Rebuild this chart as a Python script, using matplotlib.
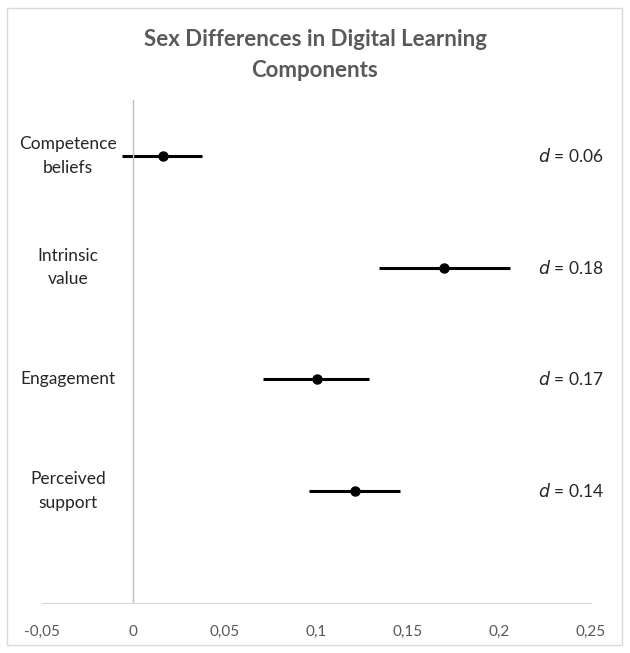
import matplotlib.pyplot as plt
from matplotlib.patches import Rectangle

plt.rcParams['font.family'] = ['Lato', 'DejaVu Sans']

# Data
categories = ['Competence\nbeliefs', 'Intrinsic\nvalue', 'Engagement', 'Perceived\nsupport']
estimates = [0.0165, 0.170, 0.1005, 0.121]
ci_low = [-0.006, 0.134, 0.071, 0.096]
ci_high = [0.0375, 0.206, 0.129, 0.146]
d_labels = ['0.06', '0.18', '0.17', '0.14']
xticks = [-0.05, 0, 0.05, 0.1, 0.15, 0.2, 0.25]
xtick_labels = ['-0,05', '0', '0,05', '0,1', '0,15', '0,2', '0,25']

fig = plt.figure(figsize=(6.3, 6.53), dpi=100)
fig.patches.append(Rectangle((0.011, 0.012), 0.976, 0.975, transform=fig.transFigure,
                             fill=False, edgecolor='#d9d9d9', linewidth=1))

ax = fig.add_axes([0.066, 0.077, 0.872, 0.77])

ypos = [4, 3, 2, 1]
for y, est, lo, hi in zip(ypos, estimates, ci_low, ci_high):
    ax.plot([lo, hi], [y, y], color='black', linewidth=2.2, solid_capstyle='butt')
    ax.plot(est, y, 'o', color='black', markersize=6.5)

ax.axvline(0, color='#bfbfbf', linewidth=1)
ax.set_xlim(-0.05, 0.25)
ax.set_ylim(0, 4.5)

for s in ['top', 'right', 'left']:
    ax.spines[s].set_visible(False)
ax.spines['bottom'].set_color('#d9d9d9')
ax.set_yticks([])
ax.set_xticks(xticks)
ax.set_xticklabels(xtick_labels, color='#595959', fontsize=11)
ax.tick_params(axis='x', length=0, pad=16)

# category labels
for y, cat in zip(ypos, categories):
    fig.text(68 / 630, 0.077 + 0.77 * y / 4.5, cat, ha='center', va='center',
             fontsize=12.5, color='#262626', linespacing=1.6)

# effect sizes
for y, d in zip(ypos, d_labels):
    fig.text(604 / 630, 0.077 + 0.77 * y / 4.5, r'$\it{d}$' + ' = ' + d, ha='right',
             va='center', fontsize=12.5, color='#262626')

fig.text(0.5, 0.916, 'Sex Differences in Digital Learning\nComponents', ha='center',
         va='center', fontsize=16, fontweight='bold', color='#595959', linespacing=1.6)

fig.savefig('out.png', dpi=100)
